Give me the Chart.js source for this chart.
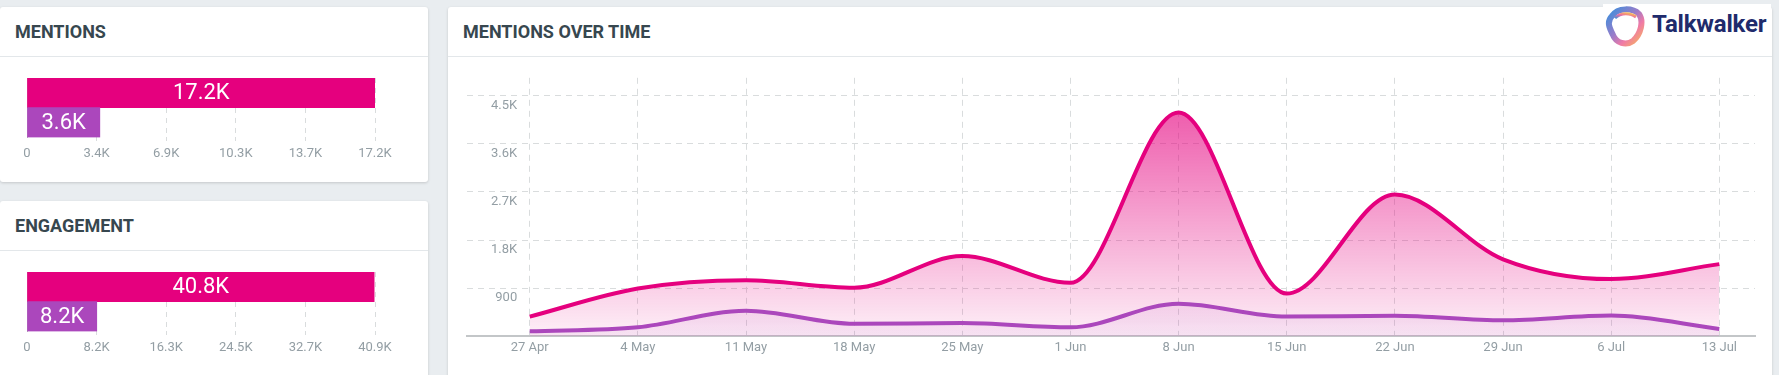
<!DOCTYPE html>
<html>
<head>
<meta charset="utf-8">
<title>Mentions dashboard</title>
<script src="https://cdn.jsdelivr.net/npm/chart.js@4.4.1/dist/chart.umd.min.js"></script>
<style>
  html, body { margin: 0; padding: 0; }
  body {
    position: relative;
    width: 1779px;
    height: 375px;
    overflow: hidden;
    background: #e9edf0;
    font-family: Roboto, "Noto Sans", sans-serif;
  }
  .card {
    position: absolute;
    background: #fff;
    border-radius: 3px;
    box-shadow: 0 1px 3px rgba(0, 0, 0, 0.16);
  }
  .card h2 {
    margin: 0;
    height: 49px;
    line-height: 50px;
    padding-left: 15px;
    font-size: 18px;
    font-weight: 700;
    color: #37474f;
    border-bottom: 1px solid #e3e7ea;
  }
  canvas { position: absolute; }
  .brand {
    position: absolute;
    left: 1603px;
    top: 4px;
    width: 168px;
    height: 42px;
    background: #fff;
  }
  .brand svg { position: absolute; left: 0; top: 0; }
  .brand span {
    position: absolute;
    left: 49px;
    top: 6px;
    font-size: 24px;
    font-weight: 700;
    color: #1f2b6c;
    letter-spacing: -0.2px;
  }
</style>
</head>
<body>
  <div class="card" style="left:0;top:7px;width:428px;height:175px;"><h2>MENTIONS</h2></div>
  <div class="card" style="left:0;top:201px;width:428px;height:200px;"><h2 style="line-height:49px;">ENGAGEMENT</h2></div>
  <div class="card" style="left:448px;top:7px;width:1324px;height:400px;"><h2>MENTIONS OVER TIME</h2></div>

  <div class="brand">
    <svg width="44" height="44" viewBox="0 0 44 44">
      <defs>
        <linearGradient id="ring" x1="0" y1="0" x2="1" y2="1">
          <stop offset="0" stop-color="#3d8fdc"/>
          <stop offset="0.45" stop-color="#9a7cc9"/>
          <stop offset="0.7" stop-color="#f07aa6"/>
          <stop offset="1" stop-color="#f6b45e"/>
        </linearGradient>
        <linearGradient id="ring2" x1="1" y1="0" x2="0" y2="1">
          <stop offset="0" stop-color="#f7c64a"/>
          <stop offset="0.5" stop-color="#ef6f9f"/>
          <stop offset="1" stop-color="#4a8fd8"/>
        </linearGradient>
      </defs>
      <path d="M9 12 C 15 3, 30 4, 36 10 C 41 17, 38 30, 30 37 C 23 42, 13 39, 10 31 C 7 25, 3 18, 9 12 Z"
            fill="#fff" stroke="url(#ring)" stroke-width="6"/>
      <path d="M12 14 C 18 8, 28 9, 33 13" fill="none" stroke="url(#ring2)" stroke-width="3"/>
    </svg>
    <span>Talkwalker</span>
  </div>

  <canvas id="mentionsBar" width="428" height="106" style="left:0;top:60px;"></canvas>
  <canvas id="engagementBar" width="428" height="106" style="left:0;top:254px;"></canvas>
  <!-- y 라벨 padding 때문에 차트 위쪽 여백이 자동으로 생김 -> canvas 를 위로 올림 -->
  <canvas id="mentionsTime" width="1324" height="329" style="left:448px;top:46px;"></canvas>

<script>
// 두 기간 (현재 / 이전)
const periods = ['Current period', 'Previous period'];
const periodColors = ['#e5007e', '#ab47bc'];

// 합계 막대
const mentionsTotals = [17200, 3600];
const engagementTotals = [40800, 8200];
const mentionsTickValues = [0, 3440, 6880, 10320, 13760, 17200];
const mentionsTickLabels = ['0', '3.4K', '6.9K', '10.3K', '13.7K', '17.2K'];
const engagementTickValues = [0, 8180, 16360, 24540, 32720, 40900];
const engagementTickLabels = ['0', '8.2K', '16.3K', '24.5K', '32.7K', '40.9K'];

// 주간 추이
const weeks = ['27 Apr', '4 May', '11 May', '18 May', '25 May', '1 Jun', '8 Jun', '15 Jun', '22 Jun', '29 Jun', '6 Jul', '13 Jul'];
const currentMentions = [370, 895, 1050, 910, 1500, 1000, 4180, 800, 2650, 1440, 1070, 1350];
const previousMentions = [95, 170, 480, 235, 250, 170, 610, 370, 385, 300, 390, 140];
const timeTickValues = [0, 900, 1800, 2700, 3600, 4500];
const timeTickLabels = ['', '900', '1.8K', '2.7K', '3.6K', '4.5K'];

const GRID = '#d9dcdd';
const TICK_TEXT = '#939ea4';

const Dashboard = {
    init() {
        Chart.defaults.font.family = 'Roboto, "Noto Sans", sans-serif';
        Chart.defaults.animation = false;
        this.totalBar('mentionsBar', mentionsTotals, mentionsTickValues, mentionsTickLabels);
        this.totalBar('engagementBar', engagementTotals, engagementTickValues, engagementTickLabels);
        this.timeLine();
    },

    fmt(v) {
        return (v / 1000).toFixed(1) + 'K';
    },

    // 막대 안쪽 가운데 값 표시
    barLabels: {
        id: 'barLabels',
        afterDatasetsDraw(chart) {
            const ctx = chart.ctx;
            const meta = chart.getDatasetMeta(0);
            ctx.save();
            ctx.font = '22px Roboto';
            ctx.fillStyle = '#fff';
            ctx.textAlign = 'center';
            ctx.textBaseline = 'middle';
            meta.data.forEach((bar, i) => {
                const v = chart.data.datasets[0].data[i];
                ctx.fillText(Dashboard.fmt(v), (bar.x + bar.base) / 2, bar.y + 1);
            });
            ctx.restore();
        }
    },

    totalBar(id, values, tickValues, tickLabels) {
        new Chart(document.getElementById(id), {
            type: 'bar',
            data: {
                labels: periods,
                datasets: [{
                    data: values,
                    backgroundColor: periodColors,
                    barPercentage: 1,
                    categoryPercentage: 1
                }]
            },
            options: {
                responsive: false,
                indexAxis: 'y',
                layout: { padding: { left: 27, right: 53, top: 18, bottom: 1 } },
                plugins: { legend: { display: false }, tooltip: { enabled: false } },
                scales: {
                    x: {
                        min: tickValues[0],
                        max: tickValues[tickValues.length - 1],
                        afterBuildTicks: axis => { axis.ticks = tickValues.map(v => ({ value: v })); },
                        grid: {
                            color: c => c.index === 0 ? 'transparent' : GRID,
                            tickColor: c => c.index === 0 ? 'transparent' : GRID,
                            tickLength: 6,
                            tickBorderDash: [4, 4]
                        },
                        border: { display: false, dash: [5, 5] },
                        ticks: {
                            padding: 3,
                            color: TICK_TEXT,
                            font: { size: 13 },
                            callback: (v, i) => tickLabels[i]
                        }
                    },
                    y: {
                        grid: { display: false, drawTicks: false },
                        border: { display: true, color: '#b5b9bb', width: 1 },
                        ticks: { display: false },
                        afterFit: axis => { axis.width = 0; }
                    }
                }
            },
            plugins: [this.barLabels]
        });
    },

    fillGradient(rgb, top, bottom) {
        return c => {
            const area = c.chart.chartArea;
            if (!area) return 'rgba(' + rgb + ',' + bottom + ')';
            const g = c.chart.ctx.createLinearGradient(0, area.top, 0, area.bottom);
            g.addColorStop(0, 'rgba(' + rgb + ',' + top + ')');
            g.addColorStop(1, 'rgba(' + rgb + ',' + bottom + ')');
            return g;
        };
    },

    timeLine() {
        const toPoints = arr => arr.map((y, x) => ({ x, y }));
        new Chart(document.getElementById('mentionsTime'), {
            type: 'line',
            data: {
                datasets: [
                    {
                        label: 'Previous period',
                        data: toPoints(previousMentions),
                        borderColor: periodColors[1],
                        backgroundColor: this.fillGradient('171,71,188', 0.2, 0.08),
                        borderWidth: 4,
                        fill: 'origin',
                        order: 0
                    },
                    {
                        label: 'Current period',
                        data: toPoints(currentMentions),
                        borderColor: periodColors[0],
                        backgroundColor: this.fillGradient('229,0,126', 0.72, 0.06),
                        borderWidth: 4,
                        fill: 'origin',
                        order: 1
                    }
                ]
            },
            options: {
                responsive: false,
                layout: { padding: { left: 19, right: 17, top: 0, bottom: 15 } },
                elements: {
                    point: { radius: 0 },
                    line: { cubicInterpolationMode: 'monotone', capBezierPoints: true }
                },
                plugins: { legend: { display: false }, tooltip: { enabled: false } },
                scales: {
                    x: {
                        type: 'linear',
                        bounds: 'data',
                        min: -0.58,
                        max: weeks.length - 1 + 0.33,
                        afterBuildTicks: axis => { axis.ticks = weeks.map((w, i) => ({ value: i })); },
                        grid: { color: GRID, drawTicks: false },
                        border: { display: true, color: '#c3c6c8', width: 2, dash: [6, 5] },
                        ticks: {
                            padding: 4,
                            color: TICK_TEXT,
                            font: { size: 13 },
                            maxRotation: 0,
                            autoSkip: false,
                            callback: (v, i) => weeks[i]
                        }
                    },
                    y: {
                        bounds: 'data',
                        min: 0,
                        max: 4830,
                        afterBuildTicks: axis => { axis.ticks = timeTickValues.map(v => ({ value: v })); },
                        afterFit: axis => { axis.width = 0; },
                        grid: {
                            color: c => c.index === 0 ? 'transparent' : GRID,
                            drawTicks: false
                        },
                        border: { display: false, dash: [6, 5] },
                        ticks: {
                            mirror: true,
                            crossAlign: 'far',
                            padding: 24,
                            labelOffset: 10,
                            color: TICK_TEXT,
                            font: { size: 13 },
                            callback: (v, i) => timeTickLabels[i]
                        }
                    }
                }
            }
        });
    }
};

Dashboard.init();
</script>
</body>
</html>
